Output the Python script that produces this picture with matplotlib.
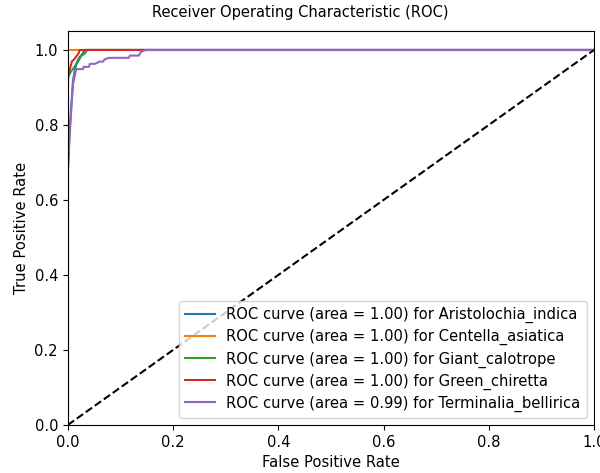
import numpy as np
import matplotlib
matplotlib.use("Agg")
import matplotlib.pyplot as plt

class_names = ["Aristolochia_indica", "Centella_asiatica", "Giant_calotrope",
               "Green_chiretta", "Terminalia_bellirica"]
roc_auc = [1.00, 1.00, 1.00, 1.00, 0.99]

# fpr / tpr points
fpr_list = [
    [0, 0, 0.002, 0.003, 0.005, 0.008, 0.010, 0.014, 0.018, 0.022, 0.028, 0.032, 1],
    [0, 0, 1],
    [0, 0, 0.005, 0.010, 0.015, 0.020, 0.026, 0.032, 0.037, 1],
    [0, 0, 0.004, 0.008, 0.012, 0.020, 0.023, 1],
    [0, 0, 0.001, 0.004, 0.007, 0.010, 0.013, 0.016, 0.029, 0.030, 0.040, 0.042,
     0.052, 0.060, 0.067, 0.070, 0.078, 0.116, 0.118, 0.135, 0.137, 0.141, 0.148, 1],
]
tpr_list = [
    [0, 0.67, 0.72, 0.77, 0.82, 0.88, 0.92, 0.95, 0.97, 0.98, 0.99, 1.0, 1.0],
    [0, 1.0, 1.0],
    [0, 0.93, 0.94, 0.95, 0.96, 0.97, 0.985, 0.99, 1.0, 1.0],
    [0, 0.92, 0.95, 0.97, 0.975, 0.99, 1.0, 1.0],
    [0, 0.70, 0.72, 0.78, 0.85, 0.91, 0.93, 0.949, 0.949, 0.955, 0.955, 0.963,
     0.963, 0.969, 0.969, 0.975, 0.979, 0.979, 0.985, 0.985, 0.991, 0.996, 1.0, 1.0],
]

plt.rcParams['font.size'] = 10.6

fig = plt.figure(figsize=(6, 4.73), dpi=100)
ax = fig.add_axes([0.113, 0.1015, 0.877, 0.8325])

for i in range(len(class_names)):
    ax.plot(fpr_list[i], tpr_list[i], lw=1.5,
            label='ROC curve (area = {:.2f}) for {}'.format(roc_auc[i], class_names[i]))

ax.plot([0, 1], [0, 1], 'k--', lw=1.5)
ax.set_xlim([0.0, 1.0])
ax.set_ylim([0.0, 1.05])
ax.set_xlabel('False Positive Rate')
ax.set_ylabel('True Positive Rate')
fig.text(0.5, 0.99, 'Receiver Operating Characteristic (ROC)', ha='center', va='top',
         fontsize=10.5)
ax.legend(loc="lower right", labelspacing=0.4)

fig.savefig("out.png", dpi=100)
